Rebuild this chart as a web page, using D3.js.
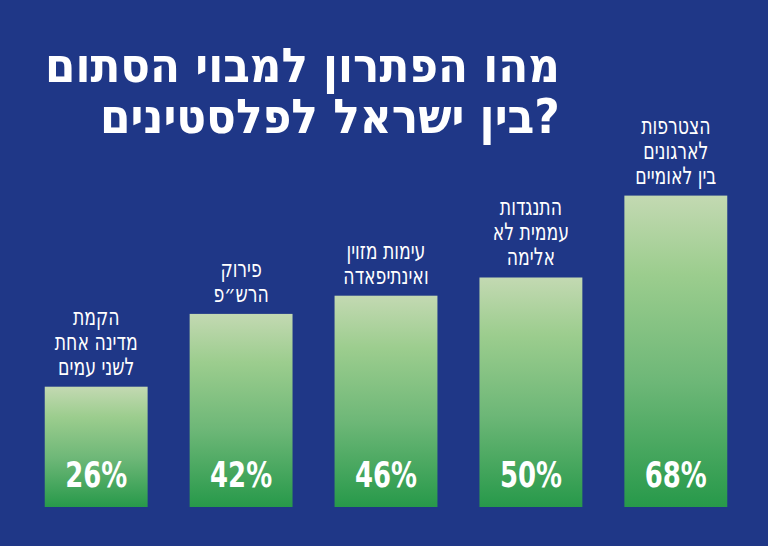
<!DOCTYPE html><html><head><meta charset="utf-8"><script src="https://cdn.jsdelivr.net/npm/d3@7"></script>
<style>body{margin:0;background:#1f3787}</style></head><body><svg id="c" width="768" height="546"></svg><script>
const categories=[["הקמת","מדינה אחת","לשני עמים"],["פירוק","הרש״פ"],["עימות מזוין","ואינתיפאדה"],["התנגדות","עממית לא","אלימה"],["הצטרפות","לארגונים","בין לאומיים"]];
const values=[26,42,46,50,68];
const titleLines=["מהו הפתרון למבוי הסתום","בין ישראל לפלסטינים?"];
const svg=d3.select("#c");
svg.append("rect").attr("width",768).attr("height",546).attr("fill","#1f3787");
const g=svg.append("defs").append("linearGradient").attr("id","gr").attr("x1",0).attr("x2",0).attr("y1",0).attr("y2",1);
g.append("stop").attr("offset","0%").attr("stop-color","#c3d9b2");
g.append("stop").attr("offset","25%").attr("stop-color","#9ccd8e");
g.append("stop").attr("offset","60%").attr("stop-color","#6db777");
g.append("stop").attr("offset","100%").attr("stop-color","#27994a");
const x=d3.scaleBand().domain(d3.range(5)).range([23,749]).paddingInner(0.29).paddingOuter(0.15);
const y=d3.scaleLinear().domain([0,100]).range([505,50]);
const font="'DejaVu Sans Condensed','DejaVu Sans',sans-serif";
const tw=[515,460];
titleLines.forEach((t,i)=>{
 const tx=svg.append("text").text(t).attr("y",82+i*51)
 .attr("fill","#fff").attr("font-family",font).attr("font-weight","bold").attr("font-size",48);
 const w=tx.node().getComputedTextLength();
 tx.attr("x",0).attr("transform",`translate(${560-tw[i]},0) scale(${tw[i]/w},1)`);
});
values.forEach((v,i)=>{
 const bx=x(i),bw=x.bandwidth(),cx=bx+bw/2;
 svg.append("rect").attr("x",bx).attr("y",y(v)).attr("width",bw).attr("height",y(0)-y(v)+2).attr("fill","url(#gr)");
 svg.append("text").text(v+"%").attr("x",cx).attr("y",487).attr("text-anchor","middle").attr("fill","#fff")
  .attr("font-family",font).attr("font-weight","bold").attr("font-size",36)
  .attr("transform",`translate(${cx},0) scale(0.8,1) translate(${-cx},0)`);
 const L=categories[i];
 L.forEach((t,j)=>svg.append("text").text(t).attr("x",cx).attr("y",y(v)-12-(L.length-1-j)*25)
  .attr("text-anchor","middle").attr("fill","#fff").attr("font-family",font).attr("font-size",24)
  .attr("transform",`translate(${cx},0) scale(0.8,1) translate(${-cx},0)`));
});
</script></body></html>
